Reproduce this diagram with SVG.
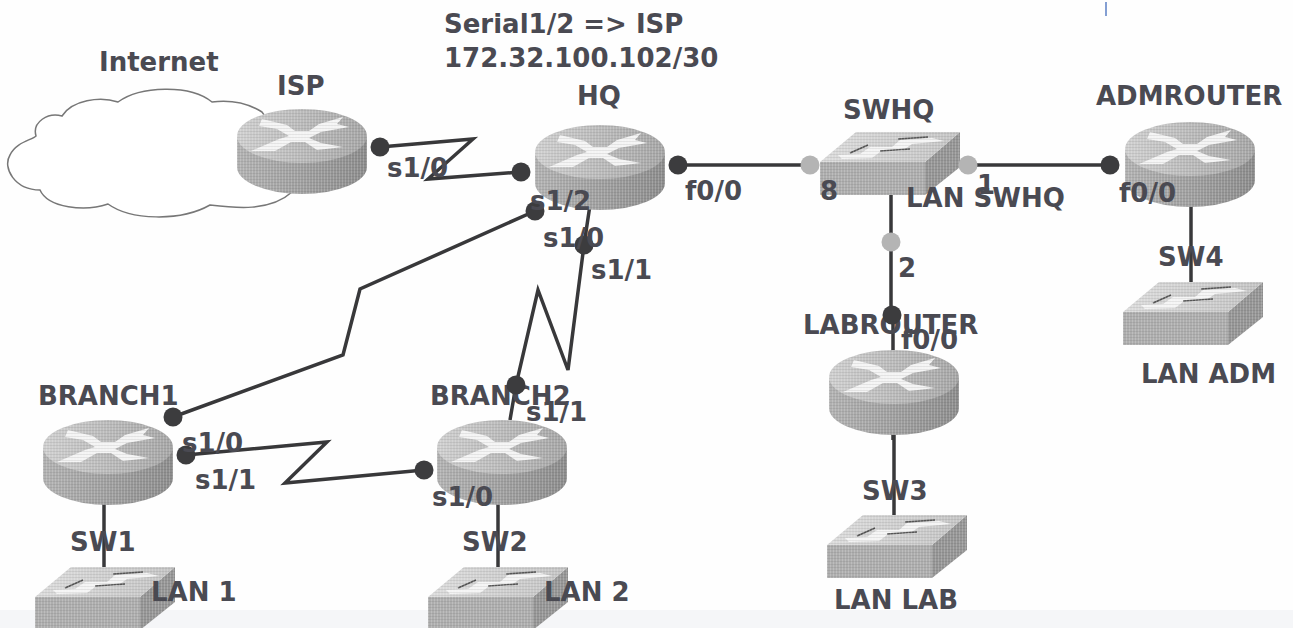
<svg xmlns="http://www.w3.org/2000/svg" width="1293" height="628" viewBox="0 0 1293 628">
<style>
text{font-family:"DejaVu Sans",sans-serif;font-weight:bold;font-size:26px;fill:#4a4a52}
.l{fill:none;stroke:#38383a;stroke-width:3.5;stroke-linejoin:miter}
.d{fill:#3c3c3e}
.p{fill:#b4b4b4}
.w{fill:#f4f4f4;stroke:none}
.k{fill:none;stroke:#555;stroke-width:1.5}
</style>
<defs>
<pattern id="dth" width="3" height="3" patternUnits="userSpaceOnUse"><rect width="3" height="3" fill="#000" fill-opacity="0"/><rect width="1" height="3" fill="#fff" fill-opacity=".18"/><rect y="1" width="3" height="1" fill="#000" fill-opacity=".07"/></pattern>
<linearGradient id="rb" x1="0" x2="1" y1="0" y2="0"><stop offset="0" stop-color="#b2b2b2"/><stop offset=".5" stop-color="#a0a0a0"/><stop offset="1" stop-color="#8c8c8c"/></linearGradient>
<linearGradient id="rt" x1="0" x2="1" y1="0" y2="0"><stop offset="0" stop-color="#d0d0d0"/><stop offset="1" stop-color="#a6a6a6"/></linearGradient>
<linearGradient id="st" x1="0" x2="1" y1="0" y2="0"><stop offset="0" stop-color="#dcdcdc"/><stop offset="1" stop-color="#c4c4c4"/></linearGradient>
<symbol id="router" width="130" height="85" viewBox="0 0 130 85" overflow="visible">
<path d="M0 27V58A65 27 0 0 0 130 58V27Z" fill="url(#rb)"/>
<ellipse cx="65" cy="27" rx="65" ry="27" fill="url(#rt)"/>
<path class="w" d="M25 10L50 16L58 22L72 22L82 15L106 8L100 15L112 18L84 23L72 29L84 34L106 38L80 41L68 33L54 33L38 42L14 42L42 30L52 27L40 20L22 17Z"/>
<path d="M0 27V58A65 27 0 0 0 130 58V27A65 27 0 0 0 0 27Z" fill="url(#dth)"/>
</symbol>
<symbol id="switch" width="140" height="63" viewBox="0 0 140 63" overflow="visible">
<path d="M0 30H105V63H0Z" fill="#aeaeae"/>
<path d="M105 30L140 0V35L105 63Z" fill="#969696"/>
<path d="M0 30L36 0H140L105 30Z" fill="url(#st)"/>
<path class="w" d="M18 23L40 22L50 15L72 15L80 8L112 6L124 9L92 12L82 19L60 20L52 26L22 27Z"/>
<path class="k" d="M30 21L48 13M78 7L108 5M60 19L90 17"/>
<path d="M0 30V63H105L140 35V0H36Z" fill="url(#dth)"/>
</symbol>
</defs>
<rect width="1293" height="628" fill="#fefefe"/>
<rect y="610" width="1293" height="18" fill="#f5f6f8"/>
<path d="M1106 2V16" stroke="#5b7fc4" stroke-width="1.5" fill="none"/>
<g id="internet">
<path d="M62 116C72 100 100 96 118 102C140 86 190 84 212 102C228 100 246 102 262 112L290 150L292 192C270 212 235 208 210 205C180 222 130 220 108 204C85 212 48 208 40 190C15 190 2 168 10 155C16 142 32 140 36 136C32 122 48 112 62 116Z" fill="#fff" stroke="#777" stroke-width="1.5"/>
<text x="99" y="71">Internet</text>
</g>
<g id="connectors">
<path class="l" d="M380 147L473 139L428 179L521 172"/>
<path class="l" d="M678 165H810"/>
<path class="l" d="M968 165H1110"/>
<path class="l" d="M891 190V316M893 316V440"/>
<path class="l" d="M535 211L360 289L343 355L173 417"/>
<path class="l" d="M590 205L584 245L568 370L538 290L516 385L510 420"/>
<path class="l" d="M186 455L327 442L285 483L424 470"/>
<path class="l" d="M1191 200V285"/>
<path class="l" d="M894 430V518"/>
<path class="l" d="M104 500V570"/>
<path class="l" d="M498 500V570"/>
</g>
<g id="ISP"><use href="#router" x="237" y="109"/><text x="277" y="95">ISP</text></g>
<g id="HQ"><use href="#router" x="535" y="125"/><text x="577" y="105">HQ</text></g>
<g id="SWHQ"><use href="#switch" x="820" y="132"/><text x="843" y="119">SWHQ</text></g>
<g id="ADMROUTER"><use href="#router" x="1125" y="122"/><text x="1096" y="105">ADMROUTER</text></g>
<g id="LABROUTER"><use href="#router" x="829" y="350"/><text x="803" y="334">LABROUTER</text></g>
<g id="BRANCH1"><use href="#router" x="43" y="420"/><text x="38" y="405">BRANCH1</text></g>
<g id="BRANCH2"><use href="#router" x="437" y="420"/><text x="430" y="405">BRANCH2</text></g>
<g id="SW1"><use href="#switch" x="35" y="567"/><text x="70" y="551">SW1</text></g>
<g id="SW2"><use href="#switch" x="428" y="567"/><text x="462" y="551">SW2</text></g>
<g id="SW3"><use href="#switch" x="827" y="515"/><text x="862" y="500">SW3</text></g>
<g id="SW4"><use href="#switch" x="1123" y="282"/><text x="1158" y="266">SW4</text></g>
<g id="dots">
<circle class="d" cx="380" cy="147" r="9.5"/><circle class="d" cx="521" cy="172" r="9.5"/><circle class="d" cx="678" cy="165" r="9.5"/>
<circle class="d" cx="1110" cy="165" r="9.5"/><circle class="d" cx="535" cy="211" r="9.5"/><circle class="d" cx="584" cy="245" r="9.5"/>
<circle class="d" cx="173" cy="417" r="9.5"/><circle class="d" cx="516" cy="385" r="9.5"/><circle class="d" cx="186" cy="455" r="9.5"/>
<circle class="d" cx="424" cy="470" r="9.5"/><circle class="d" cx="892" cy="315" r="9.5"/>
<circle class="p" cx="810" cy="165" r="9.5"/><circle class="p" cx="968" cy="165" r="9.5"/><circle class="p" cx="891" cy="242" r="9.5"/>
</g>
<g id="labels">
<text x="444" y="33">Serial1/2 =&gt; ISP</text>
<text x="444" y="67">172.32.100.102/30</text>
<text x="387" y="177">s1/0</text>
<text x="530" y="210">s1/2</text>
<text x="543" y="247">s1/0</text>
<text x="591" y="279">s1/1</text>
<text x="685" y="200">f0/0</text>
<text x="820" y="200">8</text>
<text x="977" y="194">1</text>
<text x="906" y="207">LAN SWHQ</text>
<text x="1119" y="202">f0/0</text>
<text x="898" y="277">2</text>
<text x="901" y="349">f0/0</text>
<text x="1141" y="383">LAN ADM</text>
<text x="526" y="421">s1/1</text>
<text x="182" y="452">s1/0</text>
<text x="195" y="489">s1/1</text>
<text x="432" y="506">s1/0</text>
<text x="151" y="601">LAN 1</text>
<text x="544" y="601">LAN 2</text>
<text x="834" y="609">LAN LAB</text>
</g>
</svg>
